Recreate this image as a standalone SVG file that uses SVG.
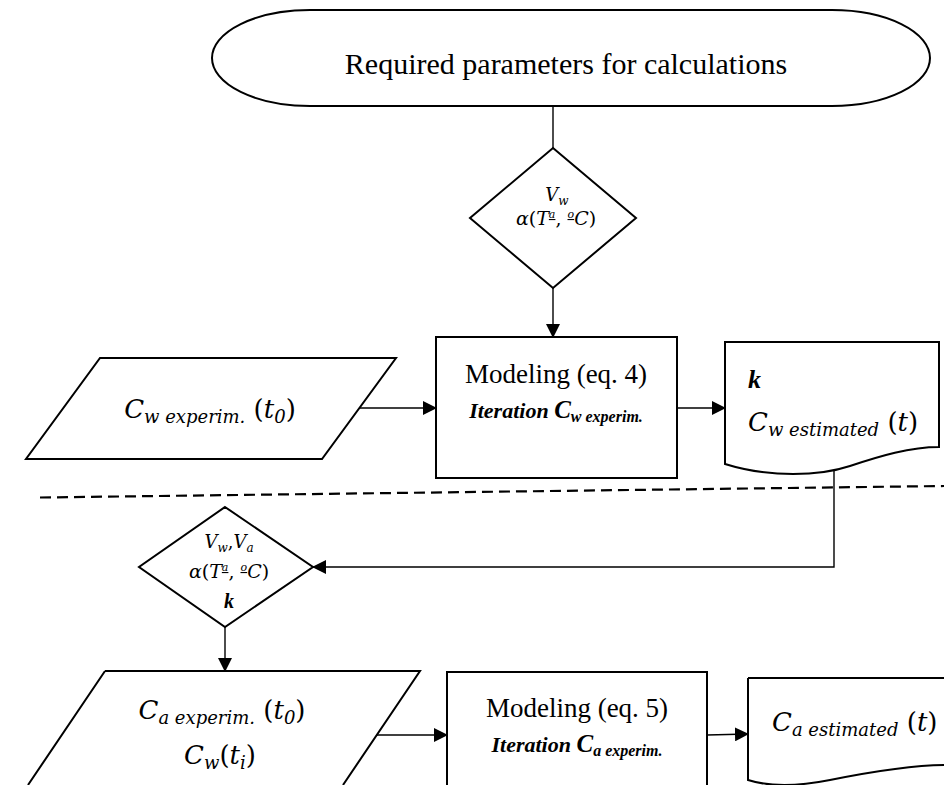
<svg xmlns="http://www.w3.org/2000/svg" width="944" height="785" viewBox="0 0 944 785">
<defs>
<style>
.shape{fill:#fff;stroke:#000;stroke-width:2}
.conn{fill:none;stroke:#000;stroke-width:1.4}
.dash{fill:none;stroke:#000;stroke-width:2.2;stroke-dasharray:11 6}
.t{font-family:'Liberation Serif','Times New Roman','DejaVu Serif',serif;fill:#000}
.m{font-family:'DejaVu Serif','Liberation Serif',serif;font-style:italic;fill:#000}
.up{font-style:normal}
.bi{font-family:'Liberation Serif','Times New Roman','DejaVu Serif',serif;font-style:italic;font-weight:bold;fill:#000}
</style>
<marker id="arr" markerUnits="userSpaceOnUse" markerWidth="14" markerHeight="14" refX="13" refY="7" orient="auto">
<path d="M0,0 L14,7 L0,14 Z" fill="#000"/>
</marker>
</defs>

<g id="dashed-separator">
<path class="dash" d="M40,497.5 L944,486"/>
</g>

<g id="connectors">
<path class="conn" d="M553,106 V148"/>
<path class="conn" d="M553,288 V337" marker-end="url(#arr)"/>
<path class="conn" d="M358,408 H436" marker-end="url(#arr)"/>
<path class="conn" d="M677,408 H725" marker-end="url(#arr)"/>
<path class="conn" d="M834,469 V567 H313" marker-end="url(#arr)"/>
<path class="conn" d="M225,627 V671" marker-end="url(#arr)"/>
<path class="conn" d="M377,735 H447" marker-end="url(#arr)"/>
<path class="conn" d="M707,735 L748,734" marker-end="url(#arr)"/>
</g>

<g id="start">
<path class="shape" d="M310,10 H832 A98,48 0 0 1 832,106 H310 A98,48 0 0 1 310,10 Z"/>
<text class="t" x="566" y="74" font-size="30" text-anchor="middle">Required parameters for calculations</text>
</g>

<g id="params1">
<path class="shape" d="M553,148 L636,218 L553,288 L470,218 Z"/>
<text class="m" x="557" y="201" font-size="18" text-anchor="middle">V<tspan font-size="12" dy="4">w</tspan></text>
<text class="m" x="556" y="225" font-size="19" text-anchor="middle">α<tspan class="up">(</tspan>T<tspan font-size="11" dy="-7" text-decoration="underline">a</tspan><tspan class="up" dy="7">, </tspan><tspan font-size="11" dy="-7" text-decoration="underline">o</tspan><tspan dy="7">C</tspan><tspan class="up">)</tspan></text>
</g>

<g id="input1">
<path class="shape" d="M100,358 H396 L322,459 H26 Z"/>
<text class="m" x="210" y="418" font-size="26" text-anchor="middle">C<tspan font-size="18" dy="5">w experim.</tspan><tspan class="up" dy="-5"> (</tspan>t<tspan font-size="18" dy="5">0</tspan><tspan class="up" dy="-5">)</tspan></text>
</g>

<g id="model1">
<rect class="shape" x="436" y="337" width="241" height="141"/>
<text class="t" x="556" y="383" font-size="27" text-anchor="middle">Modeling (eq. 4)</text>
<text class="bi" x="556" y="418" font-size="22" text-anchor="middle">Iteration <tspan font-size="25">C</tspan><tspan font-size="16" dy="4">w experim.</tspan></text>
</g>

<g id="output1">
<path class="shape" d="M725,342 H939 V447 C910,447 880,456 850,466 C820,476 770,478 725,464 Z"/>
<text class="bi" x="748" y="388" font-size="26">k</text>
<text class="m" x="748" y="431" font-size="26">C<tspan font-size="18" dy="5">w estimated</tspan><tspan class="up" dy="-5"> (</tspan>t<tspan class="up">)</tspan></text>
</g>

<g id="params2">
<path class="shape" d="M225,507 L313,567 L225,627 L139,567 Z"/>
<text class="m" x="229" y="548" font-size="18" text-anchor="middle">V<tspan font-size="12" dy="4">w</tspan><tspan class="up" dy="-4">,</tspan>V<tspan font-size="12" dy="4">a</tspan></text>
<text class="m" x="229" y="578" font-size="19" text-anchor="middle">α<tspan class="up">(</tspan>T<tspan font-size="11" dy="-7" text-decoration="underline">a</tspan><tspan class="up" dy="7">, </tspan><tspan font-size="11" dy="-7" text-decoration="underline">o</tspan><tspan dy="7">C</tspan><tspan class="up">)</tspan></text>
<text class="bi" x="229" y="608" font-size="20" text-anchor="middle">k</text>
</g>

<g id="input2">
<path class="shape" d="M105,671 H420 L343,785 M28,785 L105,671"/>
<text class="m" x="222" y="719" font-size="26" text-anchor="middle">C<tspan font-size="18" dy="5">a experim.</tspan><tspan class="up" dy="-5"> (</tspan>t<tspan font-size="18" dy="5">0</tspan><tspan class="up" dy="-5">)</tspan></text>
<text class="m" x="220" y="764" font-size="26" text-anchor="middle">C<tspan font-size="18" dy="5">w</tspan><tspan class="up" dy="-5">(</tspan>t<tspan font-size="18" dy="5">i</tspan><tspan class="up" dy="-5">)</tspan></text>
</g>

<g id="model2">
<path class="shape" d="M447,786 V672 H707 V786"/>
<text class="t" x="577" y="717" font-size="27" text-anchor="middle">Modeling (eq. 5)</text>
<text class="bi" x="577" y="752" font-size="22" text-anchor="middle">Iteration <tspan font-size="25">C</tspan><tspan font-size="16" dy="4">a experim.</tspan></text>
</g>

<g id="output2">
<path class="shape" d="M748,678 H946 M748,678 V780 C770,787 800,786 830,780 C870,772 910,765 946,765"/>
<text class="m" x="772" y="731" font-size="26">C<tspan font-size="18" dy="5">a estimated</tspan><tspan class="up" dy="-5"> (</tspan>t<tspan class="up">)</tspan></text>
</g>
</svg>
